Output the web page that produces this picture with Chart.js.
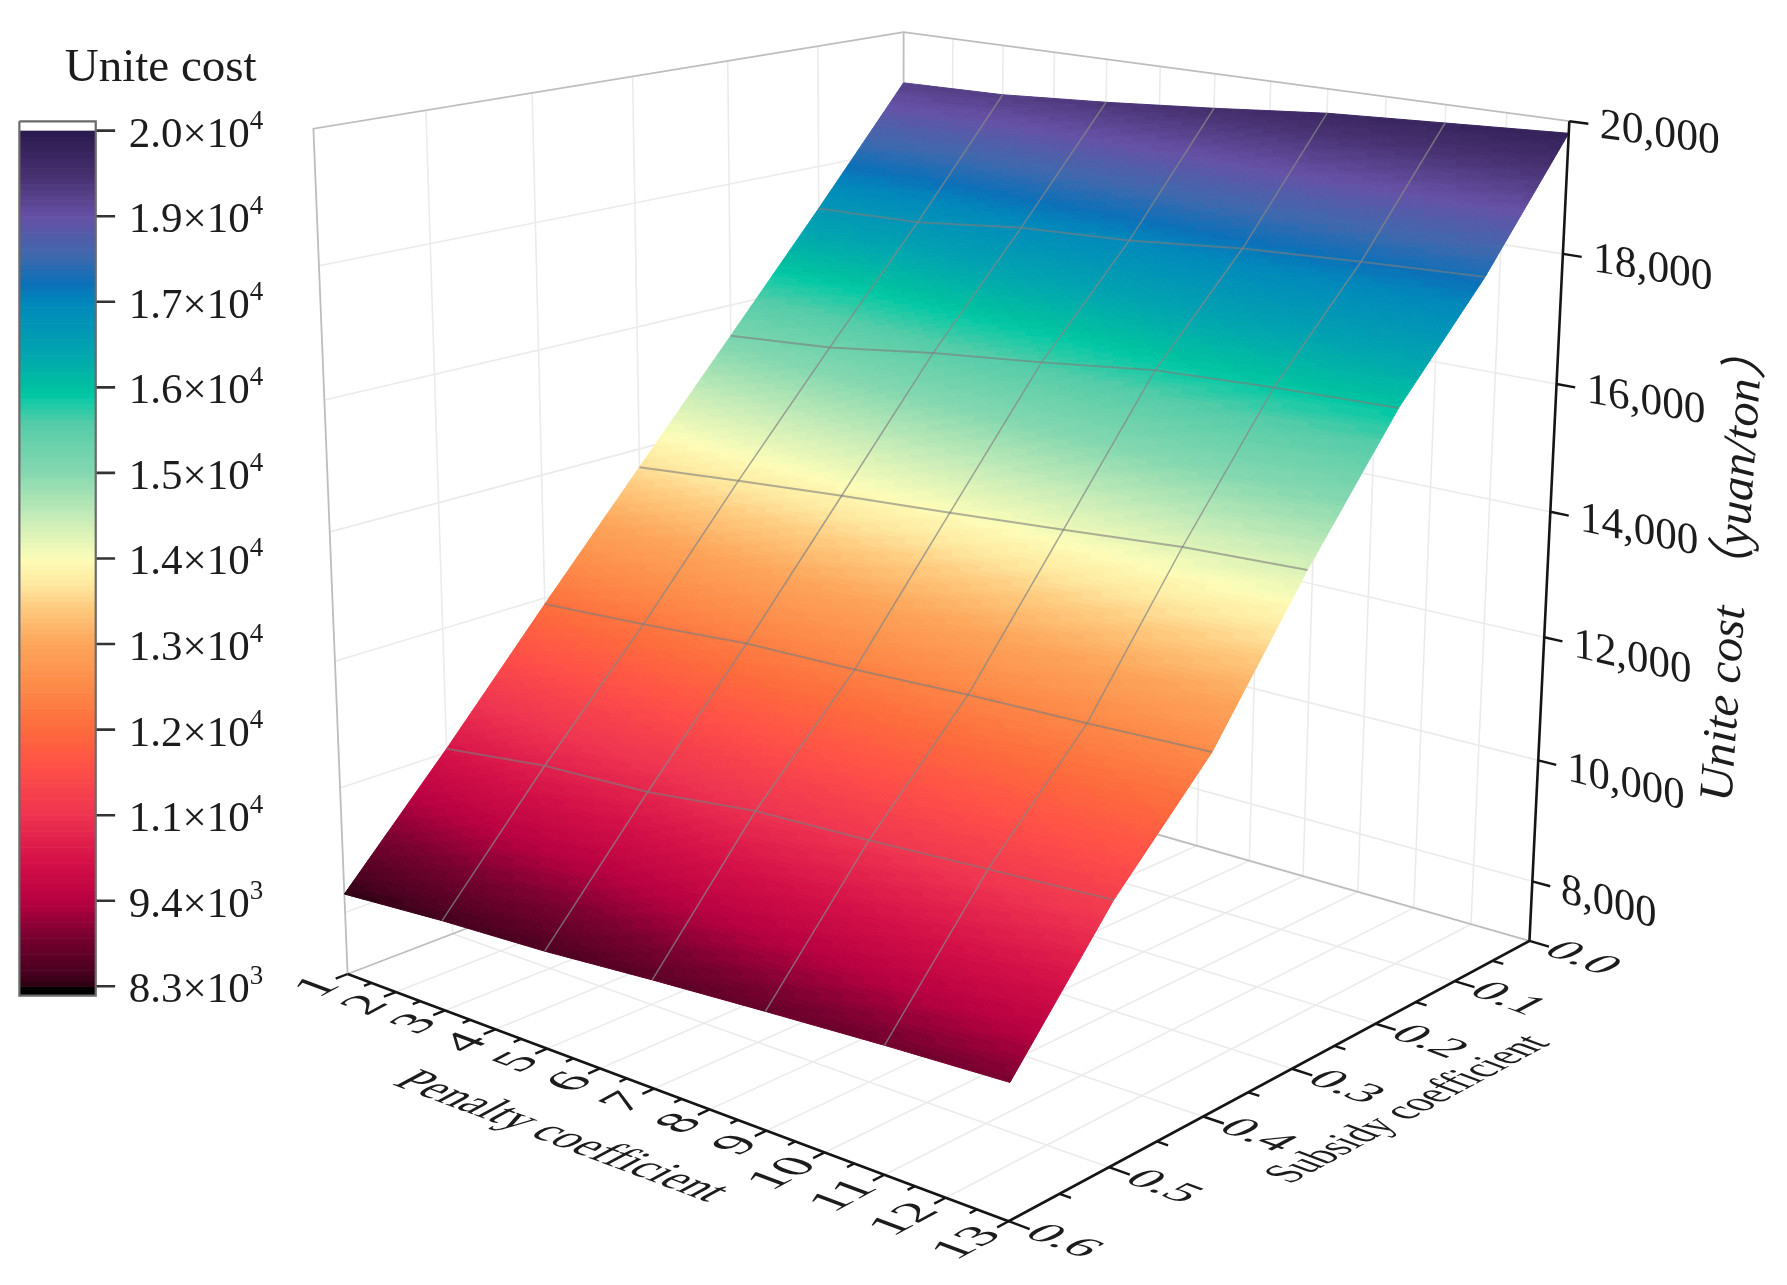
<!DOCTYPE html>
<html>

<head>
    <title>Unite cost surface</title>
    <script src="https://cdn.jsdelivr.net/npm/chart.js"></script>
    <style>
        html, body { margin: 0; padding: 0; background: #fff; }
        canvas { display: block; }
    </style>
</head>

<body>
    <canvas id="myChart" width="1787" height="1285"></canvas>

    <script>
        // surface values, one row per subsidy coefficient
        const penaltyValues = [1, 3, 5, 7, 9, 11, 13];
        const subsidyValues = [0.6, 0.5, 0.4, 0.3, 0.2, 0.1, 0.0];
        const costAtSubsidy06 = [8300, 8430, 8520, 8660, 8780, 8890, 8980];
        const costAtSubsidy05 = [10060, 10280, 10370, 10590, 10670, 10780, 10880];
        const costAtSubsidy04 = [11900, 12010, 12150, 12200, 12280, 12330, 12400];
        const costAtSubsidy03 = [13700, 13860, 14010, 14140, 14280, 14430, 14510];
        const costAtSubsidy02 = [15490, 15630, 15880, 16070, 16290, 16380, 16430];
        const costAtSubsidy01 = [17290, 17350, 17550, 17640, 17810, 17910, 17990];
        const costAtSubsidy00 = [19140, 19180, 19300, 19450, 19620, 19720, 19820];
        const costRows = [costAtSubsidy06, costAtSubsidy05, costAtSubsidy04, costAtSubsidy03, costAtSubsidy02, costAtSubsidy01, costAtSubsidy00];

        // axis ticks
        const penaltyTicks = [1, 2, 3, 4, 5, 6, 7, 8, 9, 10, 11, 12, 13];
        const subsidyTicks = [0.0, 0.1, 0.2, 0.3, 0.4, 0.5, 0.6];
        const subsidyLabels = ['0.0', '0.1', '0.2', '0.3', '0.4', '0.5', '0.6'];
        const costTicks = [8000, 10000, 12000, 14000, 16000, 18000, 20000];
        const costLabels = ['8,000', '10,000', '12,000', '14,000', '16,000', '18,000', '20,000'];

        // colour bar
        const barTickValues = [20000, 18830, 17660, 16490, 15320, 14150, 12980, 11810, 10640, 9470, 8300];
        const barMantissas = ['2.0', '1.9', '1.7', '1.6', '1.5', '1.4', '1.3', '1.2', '1.1', '9.4', '8.3'];
        const barExponents = ['4', '4', '4', '4', '4', '4', '4', '4', '4', '3', '3'];
        const stopValues = [8300, 8500, 9000, 9470, 10000, 10640, 11300, 11810, 12400, 12980, 13500, 13800, 14150, 14700, 15320, 16000, 16400, 16490, 17000, 17660, 17900, 18300, 18830, 19400, 20000];
        const stopColors = ['#2a0010', '#4a0020', '#7a0030', '#b80040', '#d41048', '#ee3350', '#ff5048', '#fd6a3c', '#fd8a48', '#fda55a', '#fecc80', '#fee8a0', '#fdfdb8', '#c8ecb8', '#85d8b0', '#55cca8', '#00c8a5', '#00c0a0', '#00a3b0', '#0088bb', '#0a70b8', '#3f68ad', '#6650a5', '#46306f', '#2a1a4e'];

        // the chart's x and y scales run over this frame
        const frameW = 1568, frameH = 1128;
        const costFloor = 7000, costTop = 20000;
        // projection of the axis box
        const cam = {
            o: [305, 855], u: [885, 1072], v: [792, 668.5], w: [275, 113],
            e: -0.1351, f: 0.1668, g: -0.06
        };

        function project(penalty, subsidy, cost) {
            const u = (penalty - 1) / 12, v = (0.6 - subsidy) / 0.6, w = (cost - costFloor) / (costTop - costFloor);
            const d = 1 + cam.e * u + cam.f * v + cam.g * w;
            const c = (i) => cam.o[i]
                + (cam.u[i] * (1 + cam.e) - cam.o[i]) * u
                + (cam.v[i] * (1 + cam.f) - cam.o[i]) * v
                + (cam.w[i] * (1 + cam.g) - cam.o[i]) * w;
            return { x: c(0) / d, y: c(1) / d };
        }

        function barY(value) {
            return 865.8 - (value - 8300) / 11700 * 751.1;
        }

        // polyline helper, a null point breaks the line
        function segments(list) {
            const out = [];
            list.forEach((seg) => { out.push(...seg, { x: null, y: null }); });
            return out;
        }

        function lineSet(label, data, color, width, order) {
            return { label: label, data: data, showLine: true, borderColor: color, borderWidth: width, pointRadius: 0, order: order, tension: 0, borderCapStyle: 'butt' };
        }

        const pMin = 1, pMax = 13, sFront = 0.6, sBack = 0;
        const wallGrid = [];
        penaltyTicks.slice(1, -1).forEach((p) => {
            wallGrid.push([project(p, sBack, costFloor), project(p, sBack, costTop)]);
            wallGrid.push([project(p, sBack, costFloor), project(p, sFront, costFloor)]);
        });
        subsidyTicks.slice(1, -1).forEach((s) => {
            wallGrid.push([project(pMin, s, costFloor), project(pMin, s, costTop)]);
            wallGrid.push([project(pMin, s, costFloor), project(pMax, s, costFloor)]);
        });
        costTicks.slice(0, -1).forEach((c) => {
            wallGrid.push([project(pMin, sFront, c), project(pMin, sBack, c)]);
            wallGrid.push([project(pMin, sBack, c), project(pMax, sBack, c)]);
        });

        const backFrame = [
            [project(pMin, sFront, costFloor), project(pMin, sFront, costTop), project(pMin, sBack, costTop), project(pMax, sBack, costTop)],
            [project(pMin, sBack, costTop), project(pMin, sBack, costFloor)],
            [project(pMin, sFront, costFloor), project(pMin, sBack, costFloor), project(pMax, sBack, costFloor)]
        ];

        // mesh lines on the surface, the outer edge of the sheet has none
        const meshAcross = [];
        subsidyValues.forEach((s, r) => { meshAcross.push(penaltyValues.map((p, c) => project(p, s, costRows[r][c]))); });
        const meshAlong = [];
        penaltyValues.forEach((p, c) => { meshAlong.push(subsidyValues.map((s, r) => project(p, s, costRows[r][c]))); });

        const surfaceNodes = meshAcross.flat();

        const mainAxes = [[project(pMin, sFront, costFloor), project(pMax, sFront, costFloor), project(pMax, sBack, costFloor), project(pMax, sBack, costTop)]];
        const ticks = [];
        penaltyTicks.forEach((p, i) => {
            ticks.push([project(p, sFront, costFloor), project(p, sFront + 0.011, costFloor)]);
            if (i < penaltyTicks.length - 1) ticks.push([project(p + 0.5, sFront, costFloor), project(p + 0.5, sFront + 0.007, costFloor)]);
        });
        subsidyTicks.forEach((s, i) => {
            ticks.push([project(pMax, s, costFloor), project(pMax + 0.33, s, costFloor)]);
            if (i < subsidyTicks.length - 1) ticks.push([project(pMax, s + 0.05, costFloor), project(pMax + 0.18, s + 0.05, costFloor)]);
        });
        costTicks.forEach((c) => { ticks.push([project(pMax, sBack, c), project(pMax + 0.3, sBack, c)]); });

        // colour bar lines live in the same frame
        const barLeft = 17, barRight = 84, barTop = 106.5, barBottom = 874;
        const barFrame = [[{ x: barLeft, y: barTop }, { x: barRight, y: barTop }, { x: barRight, y: barBottom }, { x: barLeft, y: barBottom }, { x: barLeft, y: barTop }]];
        const barTicks = barTickValues.map((t) => [{ x: barRight, y: barY(t) }, { x: 101, y: barY(t) }]);

        function hexRgb(h) {
            return [parseInt(h.slice(1, 3), 16), parseInt(h.slice(3, 5), 16), parseInt(h.slice(5, 7), 16)];
        }
        const stopRgb = stopColors.map(hexRgb);
        const bandCount = 160;
        function colorFor(value) {
            // faint bands like the contour fill of the original
            const band = Math.floor((value - 8300) / 11700 * bandCount);
            const q = 8300 + (Math.min(band, bandCount - 1) + 0.5) / bandCount * 11700;
            let i = 0;
            while (i < stopValues.length - 2 && q > stopValues[i + 1]) i++;
            const t = Math.max(0, Math.min(1, (q - stopValues[i]) / (stopValues[i + 1] - stopValues[i])));
            const a = stopRgb[i], b = stopRgb[i + 1];
            return 'rgb(' + a.map((x, k) => Math.round(x + (b[k] - x) * t)).join(',') + ')';
        }

        function drawSurface(chart) {
            const ctx = chart.ctx, sx = chart.scales.x, sy = chart.scales.y;
            const sub = 36;
            const fn = (p, s, c) => {
                const q = project(p, s, c);
                return [sx.getPixelForValue(q.x), sy.getPixelForValue(q.y)];
            };
            ctx.save();
            ctx.lineWidth = 1;
            for (let r = 0; r < subsidyValues.length - 1; r++) {
                for (let c = 0; c < penaltyValues.length - 1; c++) {
                    const z00 = costRows[r][c], z01 = costRows[r][c + 1], z10 = costRows[r + 1][c], z11 = costRows[r + 1][c + 1];
                    for (let i = 0; i < sub; i++) {
                        for (let j = 0; j < sub; j++) {
                            const corners = [[i, j], [i, j + 1], [i + 1, j + 1], [i + 1, j]].map(([a, b]) => {
                                const ta = a / sub, tb = b / sub;
                                const z = z00 * (1 - ta) * (1 - tb) + z01 * (1 - ta) * tb + z10 * ta * (1 - tb) + z11 * ta * tb;
                                const p = penaltyValues[c] + (penaltyValues[c + 1] - penaltyValues[c]) * tb;
                                const s = subsidyValues[r] + (subsidyValues[r + 1] - subsidyValues[r]) * ta;
                                return { z: z, at: fn(p, s, z) };
                            });
                            const mid = (corners[0].z + corners[1].z + corners[2].z + corners[3].z) / 4;
                            const col = colorFor(mid);
                            ctx.fillStyle = col;
                            ctx.strokeStyle = col;
                            ctx.beginPath();
                            corners.forEach((k, n) => { n ? ctx.lineTo(k.at[0], k.at[1]) : ctx.moveTo(k.at[0], k.at[1]); });
                            ctx.closePath();
                            ctx.fill();
                            ctx.stroke();
                        }
                    }
                }
            }
            ctx.restore();
        }

        function drawBar(chart) {
            const ctx = chart.ctx, sx = chart.scales.x, sy = chart.scales.y;
            const left = sx.getPixelForValue(barLeft), right = sx.getPixelForValue(barRight);
            ctx.save();
            ctx.fillStyle = '#000';
            ctx.fillRect(left, sy.getPixelForValue(barY(8300)), right - left, sy.getPixelForValue(barBottom) - sy.getPixelForValue(barY(8300)));
            for (let i = 0; i < bandCount; i++) {
                const a = 8300 + i / bandCount * 11700, b = 8300 + (i + 1) / bandCount * 11700;
                const ya = sy.getPixelForValue(barY(a)), yb = sy.getPixelForValue(barY(b));
                ctx.fillStyle = colorFor((a + b) / 2);
                ctx.fillRect(left, yb, right - left, ya - yb + 0.6);
            }
            ctx.restore();
        }

        // text laid into the plane of an axis: (ax,ay) runs along the text, (bx,by) runs down it
        function planeText(ctx, text, font, x, y, a, b, align) {
            ctx.save();
            ctx.transform(a[0], a[1], b[0], b[1], x, y);
            ctx.font = font;
            ctx.textAlign = align;
            ctx.textBaseline = 'middle';
            ctx.fillStyle = '#1c1c1c';
            ctx.fillText(text, 0, 0);
            ctx.restore();
        }

        function unit(p, q, k) {
            const dx = q.x - p.x, dy = q.y - p.y, n = Math.hypot(dx, dy);
            return [dx / n * k, dy / n * k];
        }

        function drawLabels(chart) {
            const ctx = chart.ctx, sx = chart.scales.x, sy = chart.scales.y;
            const px = (q) => [sx.getPixelForValue(q.x), sy.getPixelForValue(q.y)];
            const serif = '"Liberation Serif", "Noto Sans CJK SC", serif';
            const uDir = (k) => unit(project(pMin, sFront, costFloor), project(pMax, sFront, costFloor), k);
            const vDir = (k) => unit(project(pMax, sFront, costFloor), project(pMax, sBack, costFloor), k);

            penaltyTicks.forEach((p) => {
                const at = px(project(p, sFront + 0.016, costFloor));
                planeText(ctx, String(p), '46px ' + serif, at[0], at[1], vDir(1.2), uDir(1.05), 'right');
            });
            subsidyTicks.forEach((s, i) => {
                const at = px(project(pMax + 0.36, s, costFloor));
                planeText(ctx, subsidyLabels[i], '43px ' + serif, at[0], at[1], uDir(1.22), vDir(-1), 'left');
            });
            costTicks.forEach((c, i) => {
                const at = px(project(pMax + 0.48, sBack, c));
                const dir = unit(project(pMax - 3, sBack, c), project(pMax, sBack, c), 1);
                planeText(ctx, costLabels[i], '44px ' + serif, at[0], at[1] + 1, dir, [0, 1], 'left');
            });

            let at = px({ x: 492, y: 998 });
            planeText(ctx, 'Penalty coefficient', '45px ' + serif, at[0], at[1], uDir(1), vDir(-1.1), 'center');
            at = px({ x: 1236, y: 974 });
            planeText(ctx, 'Subsidy coefficient', '40px ' + serif, at[0], at[1], vDir(0.96), uDir(1.2), 'center');
            at = px({ x: 1522, y: 497 });
            planeText(ctx, 'Unite cost （yuan/ton）', 'italic 48px ' + serif, at[0], at[1], [0.068, -0.998], [0.998, 0.068], 'center');
            at = px({ x: 141, y: 60 });
            planeText(ctx, 'Unite cost', '47px ' + serif, at[0], at[1], [1, 0], [0, 1], 'center');

            // colour bar labels with their superscript
            ctx.save();
            ctx.fillStyle = '#1c1c1c';
            ctx.textAlign = 'left';
            ctx.textBaseline = 'alphabetic';
            barTickValues.forEach((t, i) => {
                const left = sx.getPixelForValue(113), y = sy.getPixelForValue(barY(t));
                const main = barMantissas[i] + '×10';
                ctx.font = '43px ' + serif;
                ctx.fillText(main, left, y + 16);
                const w = ctx.measureText(main).width;
                ctx.font = '27px ' + serif;
                ctx.fillText(barExponents[i], left + w, y - 2);
            });
            ctx.restore();
        }

        const surfacePlugin = {
            id: 'surface3d',
            beforeDatasetDraw(chart, args) {
                if (chart.data.datasets[args.index].label === 'surface') drawSurface(chart);
                if (chart.data.datasets[args.index].label === 'bar frame') drawBar(chart);
            },
            afterDatasetsDraw(chart) {
                drawLabels(chart);
            }
        };

        const ctx = document.getElementById('myChart').getContext('2d');
        const myChart = new Chart(ctx, {
            type: 'scatter',
            data: {
                datasets: [
                    lineSet('wall grid', segments(wallGrid), '#ebebeb', 1.6, 6),
                    lineSet('box', segments(backFrame), '#bdbdbd', 1.8, 5),
                    { label: 'surface', data: surfaceNodes, pointRadius: 0, showLine: false, order: 4 },
                    lineSet('mesh across', segments(meshAcross.slice(1, -1)), 'rgba(125,125,125,0.6)', 2, 3),
                    lineSet('mesh along', segments(meshAlong.slice(1, -1)), 'rgba(135,135,135,0.75)', 1.5, 3),
                    lineSet('axes', segments(mainAxes), '#151515', 2.6, 2),
                    lineSet('ticks', segments(ticks), '#151515', 2.4, 2),
                    lineSet('bar frame', segments(barFrame), '#6a6a6a', 2.2, 2),
                    lineSet('bar ticks', segments(barTicks), '#333333', 2.6, 2)
                ]
            },
            options: {
                responsive: false,
                animation: false,
                events: [],
                layout: { padding: 0 },
                scales: {
                    x: { type: 'linear', min: 0, max: frameW, display: false },
                    y: { type: 'linear', min: 0, max: frameH, reverse: true, display: false }
                },
                plugins: { legend: { display: false }, tooltip: { enabled: false } }
            },
            plugins: [surfacePlugin]
        });
    </script>

</body>

</html>
